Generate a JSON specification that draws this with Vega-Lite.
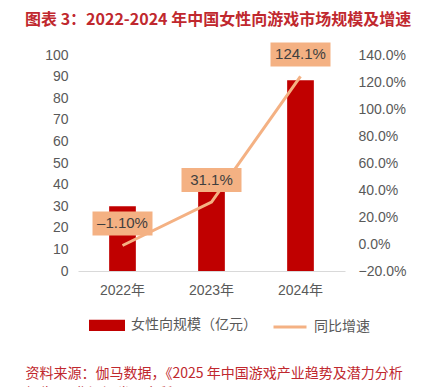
{
  "$schema": "https://vega.github.io/schema/vega-lite/v6.json",
  "width": 267,
  "height": 216,
  "autosize": "none",
  "padding": {"left": 78, "top": 55, "right": 81, "bottom": 116},
  "background": "white",
  "title": {
    "text": "图表 3：2022-2024 年中国女性向游戏市场规模及增速",
    "anchor": "start",
    "frame": "group",
    "dx": -53,
    "dy": -2,
    "fontSize": 16,
    "fontWeight": "bold",
    "color": "#C0282E",
    "font": "Noto Sans CJK SC",
    "offset": 12
  },
  "config": {
    "view": {"stroke": null},
    "axis": {
      "grid": false,
      "ticks": false,
      "domain": false,
      "labelFont": "Liberation Sans, Noto Sans CJK SC",
      "labelColor": "#595959",
      "labelFontSize": 14
    }
  },
  "data": {
    "values": [
      {"year": "2022年", "value": 30.0, "growth": -1.1, "label": "–1.10%"},
      {"year": "2023年", "value": 39.4, "growth": 31.1, "label": "31.1%"},
      {"year": "2024年", "value": 88.3, "growth": 124.1, "label": "124.1%"}
    ]
  },
  "encoding": {
    "x": {
      "field": "year",
      "type": "nominal",
      "sort": null,
      "scale": {"paddingInner": 0.7, "paddingOuter": 0.35},
      "axis": {
        "domain": true,
        "domainColor": "#D9D9D9",
        "labelPadding": 12,
        "labelAngle": 0,
        "title": ["资料来源：伽马数据，《2025 年中国游戏产业趋势及潜力分析", "报告》，华源证券研究所"],
        "titleAnchor": "start",
        "titleAlign": "left",
        "titleX": -53,
        "titleY": 106,
        "titleColor": "#C0282E",
        "titleFont": "Noto Sans CJK SC",
        "titleFontSize": 14,
        "titleFontWeight": "normal",
        "titleLineHeight": 20,
        "titleBaseline": "alphabetic"
      }
    }
  },
  "layer": [
    {
      "mark": {"type": "bar", "color": "#C00000"},
      "encoding": {
        "y": {
          "field": "value",
          "type": "quantitative",
          "scale": {"domain": [0, 100], "nice": false},
          "axis": {"values": [0, 10, 20, 30, 40, 50, 60, 70, 80, 90, 100], "labelPadding": 10, "title": null}
        },
        "color": {
          "datum": "女性向规模（亿元）",
          "scale": {"domain": ["女性向规模（亿元）", "同比增速"], "range": ["#C00000", "#F4B183"]},
          "legend": {
            "orient": "none",
            "legendX": 11,
            "legendY": 252,
            "direction": "horizontal",
            "columns": 2,
            "title": null,
            "labelFontSize": 14,
            "labelColor": "#595959",
            "labelFont": "Noto Sans CJK SC",
            "symbolSize": 1089,
            "columnPadding": 10,
            "labelOffset": 6,
            "symbolStrokeWidth": 3,
            "encode": {
              "symbols": {
                "update": {
                  "shape": {"signal": "datum.value === '同比增速' ? 'stroke' : 'M-1,-0.25H1V0.25H-1Z'"},
                  "fill": {"signal": "datum.value === '同比增速' ? 'transparent' : '#C00000'"},
                  "stroke": {"signal": "datum.value === '同比增速' ? '#F4B183' : 'transparent'"},
                  "strokeWidth": {"value": 3},
                  "opacity": {"value": 1}
                }
              }
            }
          }
        }
      }
    },
    {
      "encoding": {
        "y": {
          "field": "growth",
          "type": "quantitative",
          "scale": {"domain": [-20, 140], "nice": false},
          "axis": {
            "orient": "right",
            "values": [-20, 0, 20, 40, 60, 80, 100, 120, 140],
            "labelExpr": "replace(format(datum.value, '.1f'), '-', '–') + '%'",
            "labelPadding": 13,
            "title": null
          }
        }
      },
      "layer": [
        {
          "mark": {"type": "line", "strokeWidth": 3},
          "encoding": {"color": {"datum": "同比增速"}}
        },
        {
          "mark": {"type": "bar", "color": "#F4B183", "width": 60, "yOffset": -34, "y2Offset": -10},
          "encoding": {"y2": {"field": "growth"}}
        },
        {
          "mark": {"type": "text", "yOffset": -22, "baseline": "middle", "align": "center", "fontSize": 15, "color": "#3F3F3F", "font": "Liberation Sans"},
          "encoding": {"text": {"field": "label"}}
        }
      ]
    }
  ],
  "resolve": {"scale": {"y": "independent"}}
}
